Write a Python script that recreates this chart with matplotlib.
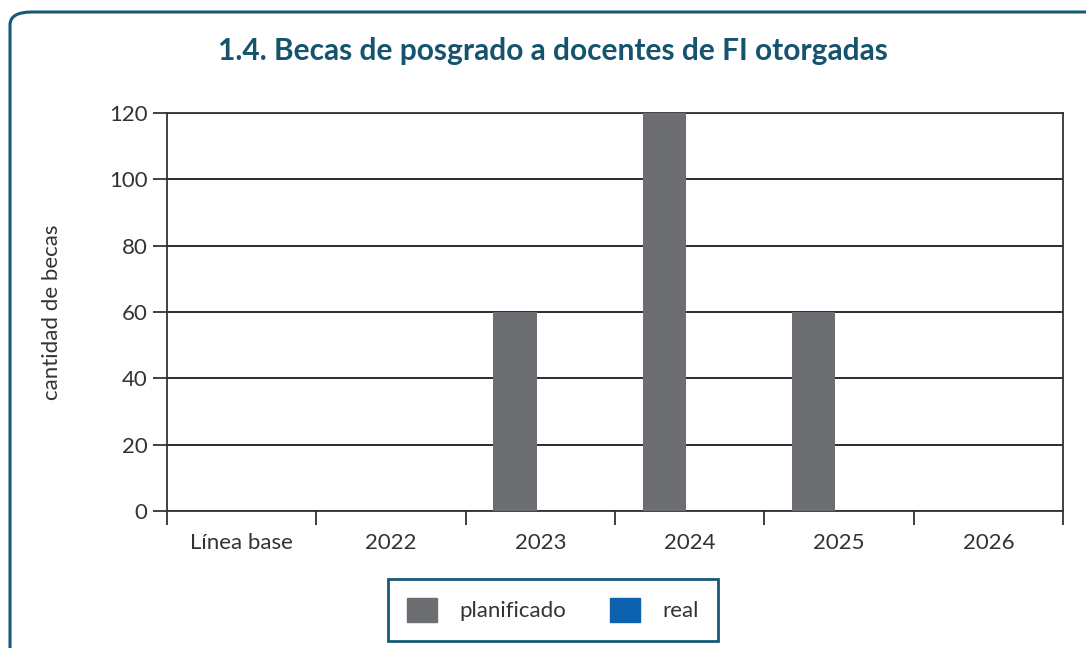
import numpy as np
import matplotlib.pyplot as plt
from matplotlib.patches import FancyBboxPatch, Patch

categorias = ['Línea base', '2022', '2023', '2024', '2025', '2026']
planificado = [0, 0, 60, 120, 60, 0]
real = [0, 0, 0, 0, 0, 0]

plt.rcParams['font.family'] = ['Lato', 'DejaVu Sans']

fig = plt.figure(figsize=(10.86, 6.48), dpi=100)
W, H = 1086, 648

# marco redondeado
marco = FancyBboxPatch((10 / W, -0.1), 1.2, (648 - 12) / H + 0.1,
                       boxstyle='round,pad=0,rounding_size=0.02',
                       transform=fig.transFigure, fill=False,
                       edgecolor='#175a78', linewidth=2.2)
fig.patches.append(marco)

fig.text(553 / W, 1 - 51 / H, '1.4. Becas de posgrado a docentes de FI otorgadas',
         ha='center', va='center', fontsize=21.5, fontweight='bold', color='#15536f')

ax = fig.add_axes([167 / W, 1 - 511 / H, (1063 - 167) / W, (511 - 113) / H])
x = np.arange(len(categorias))
w = 0.29
ax.bar(x - 0.17, planificado, width=w, color='#6d6e71', zorder=3)
ax.bar(x + 0.17, real, width=w, color='#0d62b0', zorder=3)

ax.set_xlim(-0.5, len(categorias) - 0.5)
ax.set_ylim(0, 120)
ax.set_yticks(range(0, 121, 20))
ax.yaxis.grid(True, color='#1a1a1a', linewidth=1.3, zorder=1)
ax.set_xticks(np.arange(-0.5, len(categorias), 1))
ax.set_xticklabels([])
ax.set_xticks(x, minor=True)
ax.set_xticklabels(categorias, minor=True)
ax.tick_params(axis='x', which='major', length=10, width=1.3, color='#333333', direction='out')
ax.tick_params(axis='x', which='minor', length=0, pad=16, labelsize=16, labelcolor='#333333')
ax.tick_params(axis='y', length=10, width=1.3, color='#333333', pad=4, labelsize=16,
               labelcolor='#333333')
for s in ax.spines.values():
    s.set_color('#333333')
    s.set_linewidth(1.3)

ax.set_ylabel('cantidad de becas', fontsize=16, color='#333333', labelpad=34)

handles = [Patch(color='#6d6e71', label='planificado'), Patch(color='#0d62b0', label='real')]
leg = fig.legend(handles=handles, loc='center', bbox_to_anchor=(553 / W, 1 - 610 / H),
                 ncol=2, fontsize=16, frameon=True, fancybox=False, framealpha=1,
                 handlelength=1.35, handleheight=1.35, columnspacing=2.0,
                 borderpad=0.85, handletextpad=1.0)
leg.get_frame().set_edgecolor('#175a78')
leg.get_frame().set_linewidth(2)
for t in leg.get_texts():
    t.set_color('#333333')

fig.savefig('out.png', dpi=100)
